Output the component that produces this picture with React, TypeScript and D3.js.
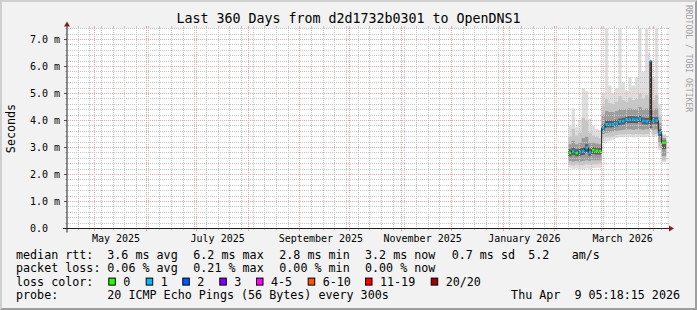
import React from "react";
import * as d3 from "d3";

const W = 697;
const H = 310;

const title = "Last 360 Days from d2d1732b0301 to OpenDNS1";
const yAxisTitle = "Seconds";
const watermark = "RRDTOOL / TOBI OETIKER";

const startTime = "2025-04-14T05:18:15Z";
const endTime = "2026-04-09T05:18:15Z";
const yMax = 7.41;

const yMajorValues = [0, 1, 2, 3, 4, 5, 6, 7];
const yTickLabels = ["0.0", "1.0 m", "2.0 m", "3.0 m", "4.0 m", "5.0 m", "6.0 m", "7.0 m"];

const xLabelMonths = ["2025-05-01", "2025-07-01", "2025-09-01", "2025-11-01", "2026-01-01", "2026-03-01"];
const xLabels = ["May 2025", "July 2025", "September 2025", "November 2025", "January 2026", "March 2026"];

// time buckets (start dates); last bucket ends at bucketEnd
const bucketStarts = [
  "2026-02-09", "2026-02-11", "2026-02-13", "2026-02-15", "2026-02-17", "2026-02-19", "2026-02-21", "2026-02-23", "2026-02-25", "2026-02-27",
  "2026-03-01", "2026-03-03", "2026-03-05", "2026-03-07", "2026-03-09", "2026-03-11", "2026-03-13", "2026-03-15", "2026-03-17", "2026-03-19",
  "2026-03-21", "2026-03-23", "2026-03-25", "2026-03-27", "2026-03-29", "2026-03-30", "2026-03-31", "2026-04-02", "2026-04-04", "2026-04-06",
];
const bucketEnd = "2026-04-08T18:00:00Z";

// median rtt (ms)
const median = [2.80, 2.87, 2.80, 2.84, 2.86, 3.00, 2.82, 2.90, 2.88, 2.87,
  3.72, 3.86, 3.86, 3.86, 3.90, 3.95, 3.98, 4.03, 4.04, 4.04,
  4.03, 4.07, 3.99, 3.97, 3.98, 6.20, 4.00, 4.00, 3.55, 3.18];
// lost pings (of 20)
const lossPings = [0, 1, 0, 1, 1, 1, 1, 0, 0, 0,
  1, 1, 1, 1, 1, 1, 1, 1, 1, 1,
  1, 1, 1, 1, 1, 1, 1, 1, 1, 0];

// smoke quantiles (ms)
const smokeMin = [2.25, 2.20, 2.22, 2.20, 2.20, 2.22, 2.20, 2.24, 2.25, 2.25,
  3.20, 3.22, 3.25, 3.30, 3.35, 3.38, 3.38, 3.40, 3.40, 3.38,
  3.40, 3.40, 3.38, 3.40, 3.42, 3.65, 3.40, 3.42, 2.90, 2.45];
const smokeMax = [3.80, 4.45, 3.75, 4.00, 5.20, 5.10, 4.07, 3.80, 3.70, 3.65,
  5.00, 7.41, 5.30, 5.00, 5.20, 7.41, 5.40, 5.10, 5.60, 5.30,
  5.60, 7.41, 5.80, 7.41, 6.50, 6.25, 5.60, 7.41, 4.60, 3.50];
const smokeP10 = [2.36, 2.33, 2.36, 2.34, 2.34, 2.38, 2.36, 2.38, 2.38, 2.40,
  3.36, 3.38, 3.40, 3.43, 3.46, 3.48, 3.48, 3.50, 3.50, 3.48,
  3.50, 3.50, 3.48, 3.50, 3.50, 3.70, 3.48, 3.50, 3.02, 2.52];
const smokeP90 = [3.40, 3.70, 3.45, 3.55, 4.10, 4.00, 3.55, 3.45, 3.40, 3.35,
  4.55, 4.80, 4.65, 4.60, 4.70, 4.90, 4.75, 4.70, 4.85, 4.75,
  4.80, 5.00, 4.80, 4.95, 4.85, 6.22, 4.75, 4.95, 4.20, 3.45];
const smokeP25 = [2.50, 2.48, 2.50, 2.48, 2.50, 2.53, 2.50, 2.53, 2.53, 2.53,
  3.50, 3.55, 3.57, 3.60, 3.62, 3.64, 3.66, 3.68, 3.68, 3.66,
  3.68, 3.68, 3.66, 3.68, 3.68, 3.70, 3.66, 3.68, 3.20, 2.68];
const smokeP75 = [3.12, 3.25, 3.12, 3.18, 3.35, 3.40, 3.18, 3.18, 3.15, 3.12,
  4.22, 4.35, 4.32, 4.32, 4.35, 4.42, 4.40, 4.42, 4.45, 4.42,
  4.42, 4.50, 4.40, 4.45, 4.42, 6.21, 4.40, 4.45, 3.90, 3.34];
const smokeP40 = [2.68, 2.72, 2.68, 2.70, 2.72, 2.82, 2.70, 2.76, 2.74, 2.74,
  3.62, 3.74, 3.74, 3.75, 3.78, 3.83, 3.85, 3.90, 3.91, 3.91,
  3.90, 3.94, 3.86, 3.85, 3.86, 3.72, 3.88, 3.88, 3.42, 2.95];
const smokeP60 = [2.94, 3.00, 2.94, 2.97, 3.00, 3.12, 2.96, 3.02, 3.00, 2.99,
  3.86, 4.00, 4.00, 4.00, 4.03, 4.08, 4.10, 4.15, 4.16, 4.16,
  4.15, 4.19, 4.11, 4.09, 4.10, 6.20, 4.12, 4.12, 3.68, 3.26];

const lossLabels = ["0", "1", "2", "3", "4-5", "6-10", "11-19", "20/20"];
const lossColors = ["#26ff00", "#00b8ff", "#0059ff", "#7e00ff", "#ff00ff", "#ff5500", "#ff0000", "#a10000"];
const lossUpper = [0, 1, 2, 3, 5, 10, 19, 20];

const legendRtt = ["median rtt:", "3.6 ms avg", "6.2 ms max", "2.8 ms min", "3.2 ms now", "0.7 ms sd", "5.2", "am/s"];
const legendLoss = ["packet loss:", "0.06 % avg", "0.21 % max", "0.00 % min", "0.00 % now"];
const legendLossColor = "loss color:";
const probeLabel = "probe:";
const probeText = "20 ICMP Echo Pings (56 Bytes) every 300s";
const dateText = "Thu Apr  9 05:18:15 2026";

const FONT = "'DejaVu Sans Mono', monospace";

function lossColor(n: number) {
  const idx = lossUpper.findIndex((u) => n <= u);
  return lossColors[idx < 0 ? lossColors.length - 1 : idx];
}

export default function App() {
  const x0 = 67;
  const xsize = 600;
  const y0 = 228.5;
  const ysize = 200;
  const t0 = new Date(startTime);
  const t1 = new Date(endTime);
  const x = d3.scaleUtc().domain([t0, t1]).range([x0, x0 + xsize]);
  const y = d3.scaleLinear().domain([0, yMax]).range([y0, y0 - ysize]);

  const times = bucketStarts.map((s) => new Date(s + "T00:00:00Z"));
  const tEnd = new Date(bucketEnd);
  const idx = d3.range(times.length + 1);
  const tAt = (i: number) => (i < times.length ? times[i] : tEnd);
  const vAt = (arr: number[], i: number) => arr[Math.min(i, arr.length - 1)];

  const layers: [number[], number[], string][] = [
    [smokeMin, smokeMax, "#dedede"],
    [smokeP10, smokeP90, "#c6c6c6"],
    [smokeP25, smokeP75, "#9c9c9c"],
    [smokeP40, smokeP60, "#5c5c5c"],
  ];

  const px = (v: number) => Math.floor(v);
  const gTop = 28;
  const gBot = 228;

  const minorY = d3.range(0.2, yMax, 0.2).filter((v) => Math.abs(v - Math.round(v)) > 0.01);
  const majorY = yMajorValues.filter((v) => v > 0);
  const minorX = d3.utcMonday.range(t0, t1);
  const majorX = d3.utcMonth.range(t0, t1);

  const gridMinor = "#c6c6c6";
  const gridMajor = "#f0a6a6";

  const medianStep = d3
    .line<number>()
    .x((i) => x(tAt(i)))
    .y((i) => y(vAt(median, i)))
    .curve(d3.curveStepAfter)(idx);

  const rowY = [258.6, 272.1, 285.6, 299.1];
  const colX = [16, 107.3, 193.3, 279.3, 365, 451.7, 528.3, 571.7];
  const boxX = [108.3, 145.7, 182.3, 219.3, 256, 307.7, 365, 430.7];

  return (
    <svg width={W} height={H} style={{ position: "absolute", left: 0, top: 0 }} fontFamily={FONT}>
      <defs>
        <pattern id="hMin" x={0} y={0} width={2} height={1} patternUnits="userSpaceOnUse">
          <rect x={0} y={0} width={1} height={1} fill={gridMinor} />
        </pattern>
        <pattern id="vMin" x={0} y={0} width={1} height={2} patternUnits="userSpaceOnUse">
          <rect x={0} y={0} width={1} height={1} fill={gridMinor} />
        </pattern>
        <pattern id="hMaj" x={0} y={0} width={2} height={1} patternUnits="userSpaceOnUse">
          <rect x={0} y={0} width={1} height={1} fill={gridMajor} />
        </pattern>
        <pattern id="vMaj" x={0} y={0} width={1} height={2} patternUnits="userSpaceOnUse">
          <rect x={0} y={0} width={1} height={1} fill={gridMajor} />
        </pattern>
      </defs>
      <rect x={0} y={0} width={W} height={H} fill="#f2f2f2" />
      <polygon points={`0,${H} 2,${H - 2} 2,2 ${W - 2},2 ${W},0 0,0`} fill="#cfcfcf" />
      <polygon points={`2,${H - 2} ${W - 2},${H - 2} ${W - 2},2 ${W},0 ${W},${H} 0,${H}`} fill="#9e9e9e" />
      <rect x={x0} y={y0 - ysize} width={xsize} height={ysize} fill="#ffffff" />

      {/* smoke */}
      {layers.map(([lo, hi, col], k) => {
        const a = d3
          .area<number>()
          .x((i) => x(tAt(i)))
          .y0((i) => y(vAt(lo, i)))
          .y1((i) => y(vAt(hi, i)))
          .curve(d3.curveStepAfter)(idx);
        return <path key={k} d={a || ""} fill={col} />;
      })}

      {/* grid */}
      <g shapeRendering="crispEdges">
        {minorY.map((v, i) => {
          const yy = px(y(v));
          return (
            <g key={"my" + i}>
              <rect x={x0 - 2} y={yy} width={2} height={1} fill={gridMinor} />
              <rect x={x0 + xsize} y={yy} width={2} height={1} fill={gridMinor} />
              <rect x={x0} y={yy} width={xsize} height={1} fill="url(#hMin)" />
            </g>
          );
        })}
        {minorX.map((t, i) => {
          const xx = px(x(t));
          return (
            <g key={"mx" + i}>
              <rect x={xx} y={gBot} width={1} height={2} fill={gridMinor} />
              <rect x={xx} y={gTop - 2} width={1} height={2} fill={gridMinor} />
              <rect x={xx} y={gTop} width={1} height={gBot - gTop} fill="url(#vMin)" />
            </g>
          );
        })}
        {majorY.map((v, i) => {
          const yy = px(y(v));
          return (
            <g key={"My" + i}>
              <rect x={x0 - 3} y={yy} width={3} height={1} fill="#555" />
              <rect x={x0 + xsize} y={yy} width={2} height={1} fill={gridMajor} />
              <rect x={x0} y={yy} width={xsize} height={1} fill="url(#hMaj)" />
            </g>
          );
        })}
        {majorX.map((t, i) => {
          const xx = px(x(t));
          return (
            <g key={"Mx" + i}>
              <rect x={xx} y={gBot} width={1} height={3} fill={gridMajor} />
              <rect x={xx} y={gTop - 2} width={1} height={2} fill={gridMajor} />
              <rect x={xx} y={gTop} width={1} height={gBot - gTop} fill="url(#vMaj)" />
            </g>
          );
        })}
      </g>

      {/* median */}
      <path d={medianStep || ""} fill="none" stroke="#202020" strokeWidth={1} />
      {times.map((t, i) => {
        const xa = x(t);
        const xb = x(tAt(i + 1));
        return (
          <rect
            key={"md" + i}
            x={xa + 0.3}
            y={y(median[i]) - 1.3}
            width={Math.max(0.8, xb - xa - 0.6)}
            height={2.6}
            fill={lossColor(lossPings[i])}
          />
        );
      })}

      {/* axes */}
      <line x1={x0 - 4} x2={x0 + xsize + 4} y1={y0} y2={y0} stroke="#1f1f1f" strokeWidth={1} />
      <line x1={x0} x2={x0} y1={y0 + 4} y2={y0 - ysize - 4} stroke="#1f1f1f" strokeWidth={1} />
      <polygon
        points={`${x0 + xsize + 2},${y0 - 3} ${x0 + xsize + 2},${y0 + 3} ${x0 + xsize + 7},${y0}`}
        fill="#801f1f"
      />
      <polygon
        points={`${x0 - 3},${y0 - ysize - 2} ${x0 + 3},${y0 - ysize - 2} ${x0},${y0 - ysize - 7}`}
        fill="#801f1f"
      />

      {/* y labels */}
      {yMajorValues.map((v, i) => (
        <text key={"yl" + i} x={30} y={y(v) + 3.5} fontSize={10} fill="#000">
          {yTickLabels[i]}
        </text>
      ))}
      {/* x labels */}
      {xLabelMonths.map((m, i) => {
        const tm = new Date(m + "T00:00:00Z");
        const tl = new Date(tm.getTime() + 15 * 86400000);
        return (
          <text key={"xl" + i} x={x(tl) - 4} y={241.5} fontSize={10} textAnchor="middle" fill="#000">
            {xLabels[i]}
          </text>
        );
      })}

      <text x={W / 2} y={23} fontSize={13.3} textAnchor="middle" fill="#000">
        {title}
      </text>
      <text
        transform={`translate(15, ${y0 - ysize / 2}) rotate(-90)`}
        fontSize={11.7}
        textAnchor="middle"
        fill="#000"
      >
        {yAxisTitle}
      </text>
      <text transform={`translate(685.5, 5) rotate(90)`} fontSize={8.1} fill="#a0a0a0">
        {watermark}
      </text>

      {/* legend */}
      <g fontSize={11.7} fill="#000">
        {legendRtt.map((s, i) => (
          <text key={"r" + i} x={colX[i]} y={rowY[0]}>{s}</text>
        ))}
        {legendLoss.map((s, i) => (
          <text key={"l" + i} x={colX[i]} y={rowY[1]}>{s}</text>
        ))}
        <text x={colX[0]} y={rowY[2]}>{legendLossColor}</text>
        {lossLabels.map((s, i) => (
          <g key={"lc" + i}>
            <rect x={boxX[i] + 0.5} y={rowY[2] - 7.5} width={6.5} height={7} fill={lossColors[i]} stroke="#000" strokeWidth={1} />
            <text x={boxX[i] + 15} y={rowY[2]}>{s}</text>
          </g>
        ))}
        <text x={colX[0]} y={rowY[3]}>{probeLabel}</text>
        <text x={colX[1]} y={rowY[3]}>{probeText}</text>
        <text x={680} y={rowY[3]} textAnchor="end" xmlSpace="preserve" style={{ whiteSpace: "pre" }}>
          {dateText}
        </text>
      </g>
    </svg>
  );
}
